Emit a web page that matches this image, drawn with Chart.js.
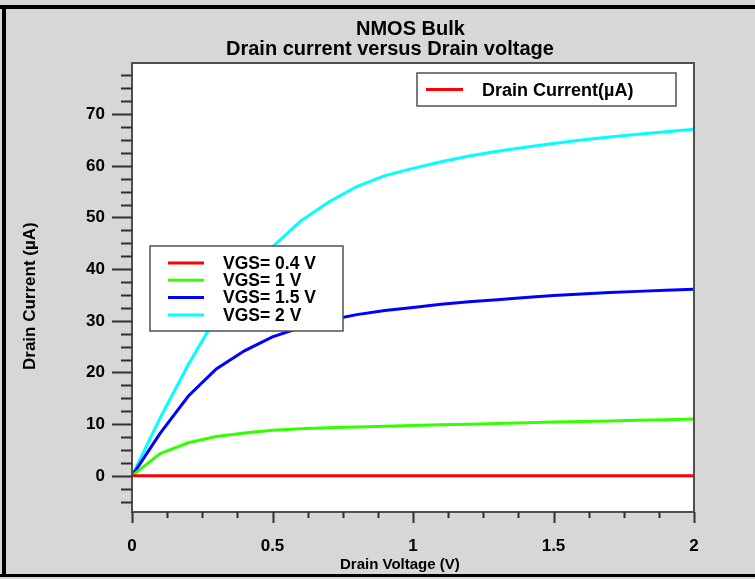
<!DOCTYPE html>
<html>
<head>
<meta charset="utf-8">
<script src="https://cdn.jsdelivr.net/npm/chart.js@4.4.0/dist/chart.umd.min.js"></script>
<style>
  html, body { margin: 0; padding: 0; background: #d7d7d7; }
  #wrap { width: 755px; height: 579px; }
</style>
</head>
<body>
<div id="wrap"><canvas id="ivChart" width="755" height="579"></canvas></div>
<script>
// Drain voltage sweep (V)
const drainVoltage = [0, 0.1, 0.2, 0.3, 0.4, 0.5, 0.6, 0.7, 0.8, 0.9, 1.0,
                      1.1, 1.2, 1.3, 1.4, 1.5, 1.6, 1.7, 1.8, 1.9, 2.0];

// Drain current (uA) for each gate voltage
const idVgs04 = [0, 0, 0, 0, 0, 0, 0, 0, 0, 0, 0, 0, 0, 0, 0, 0, 0, 0, 0, 0, 0];
const idVgs1  = [0, 4.3, 6.4, 7.6, 8.3, 8.8, 9.1, 9.3, 9.45, 9.6, 9.75,
                 9.9, 10.0, 10.15, 10.25, 10.4, 10.5, 10.6, 10.75, 10.85, 11.0];
const idVgs15 = [0, 8.2, 15.4, 20.7, 24.2, 26.9, 28.7, 30.1, 31.2, 32.0, 32.6,
                 33.2, 33.7, 34.1, 34.5, 34.9, 35.2, 35.5, 35.7, 35.9, 36.1];
const idVgs2  = [0, 11.2, 21.5, 30.8, 38.5, 44.3, 49.3, 53.0, 56.0, 58.1, 59.5,
                 60.8, 61.9, 62.8, 63.6, 64.3, 65.0, 65.6, 66.1, 66.6, 67.1];

const seriesNames = ['VGS= 0.4 V', 'VGS= 1 V', 'VGS= 1.5 V', 'VGS= 2 V'];
const seriesColors = ['#ff0000', '#33ff00', '#0000ff', '#00ffff'];
const seriesData = [idVgs04, idVgs1, idVgs15, idVgs2];

// Axis tick labels
const xTickValues = [0, 0.5, 1, 1.5, 2];
const yTickValues = [0, 10, 20, 30, 40, 50, 60, 70];
const xMinorStep = 0.125;
const yMinorStep = 2.5;

const titleLines = ['NMOS Bulk', 'Drain current versus Drain voltage'];
const xAxisTitle = 'Drain Voltage (V)';
const yAxisTitle = 'Drain Current (\u00b5A)';
const topLegendLabel = 'Drain Current(\u00b5A)';

const fontFamily = '"Liberation Sans", Arial, sans-serif';
const boldFont = (size) => `bold ${size}px ${fontFamily}`;

// background, frame, plot border, tick marks, titles and the two legend boxes
const decorPlugin = {
    id: 'decor',
    beforeDraw(chart) {
        const c = chart.ctx;
        c.save();
        c.fillStyle = '#d7d7d7';
        c.fillRect(0, 0, chart.width, chart.height);
        c.fillStyle = '#000';
        c.fillRect(0, 5, chart.width, 4);    // top edge
        c.fillRect(2, 5, 4, chart.height - 7); // left edge
        c.fillRect(0, chart.height - 5, chart.width, 3); // bottom edge
        const a = chart.chartArea;
        c.fillStyle = '#fff';
        c.fillRect(a.left, a.top, a.right - a.left, a.bottom - a.top);
        c.restore();
    },
    afterDraw(chart) {
        const c = chart.ctx;
        const a = chart.chartArea;
        const xs = chart.scales.x;
        const ys = chart.scales.y;
        c.save();

        // plot frame
        c.strokeStyle = '#505050';
        c.lineWidth = 2;
        c.strokeRect(a.left, a.top, a.right - a.left, a.bottom - a.top);

        // tick marks, outward
        c.strokeStyle = '#303030';
        c.lineWidth = 2;
        c.beginPath();
        const nx = Math.round((xs.max - xs.min) / xMinorStep);
        for (let i = 0; i <= nx; i++) {
            const v = xs.min + i * xMinorStep;
            const px = Math.round(xs.getPixelForValue(v)) + 0.5;
            const major = xTickValues.some(t => Math.abs(t - v) < 1e-9);
            c.moveTo(px, a.bottom);
            c.lineTo(px, a.bottom + (major ? 11 : 6));
        }
        const yStart = Math.ceil(ys.min / yMinorStep) * yMinorStep;
        for (let v = yStart; v <= ys.max + 1e-9; v += yMinorStep) {
            const py = Math.round(ys.getPixelForValue(v)) + 0.5;
            const major = yTickValues.some(t => Math.abs(t - v) < 1e-9);
            c.moveTo(a.left, py);
            c.lineTo(a.left - (major ? 20 : 11), py);
        }
        c.stroke();

        // title (text starts left of centre, as in the original plot)
        c.fillStyle = '#000';
        c.font = boldFont(20);
        c.textAlign = 'left';
        c.textBaseline = 'middle';
        c.fillText(titleLines[0], 356, 29);
        c.fillText(titleLines[1], 226, 49);

        // axis titles
        c.font = boldFont(15);
        c.fillText(xAxisTitle, 340, 565);
        c.save();
        c.translate(30, 370);
        c.rotate(-Math.PI / 2);
        c.font = boldFont(17);
        c.fillText(yAxisTitle, 0, 0);
        c.restore();

        // series legend
        c.fillStyle = '#fff';
        c.fillRect(150, 246, 193, 85);
        c.strokeStyle = '#505050';
        c.lineWidth = 1.5;
        c.strokeRect(150, 246, 193, 85);
        c.font = boldFont(17.5);
        c.textAlign = 'left';
        seriesNames.forEach((name, i) => {
            const y = 263 + i * 17.3;
            c.strokeStyle = seriesColors[i];
            c.lineWidth = 3;
            c.beginPath();
            c.moveTo(168, y);
            c.lineTo(204, y);
            c.stroke();
            c.fillStyle = '#000';
            c.fillText(name, 223, y + 1);
        });

        // top right legend
        c.fillStyle = '#fff';
        c.fillRect(417, 73, 259, 33);
        c.strokeStyle = '#505050';
        c.lineWidth = 1.5;
        c.strokeRect(417, 73, 259, 33);
        c.strokeStyle = seriesColors[0];
        c.lineWidth = 3;
        c.beginPath();
        c.moveTo(426, 89.5);
        c.lineTo(463, 89.5);
        c.stroke();
        c.fillStyle = '#000';
        c.font = boldFont(18);
        c.fillText(topLegendLabel, 482, 91);

        c.restore();
    }
};

const ctx = document.getElementById('ivChart').getContext('2d');

const datasets = seriesNames.map((name, i) => ({
    label: name,
    data: drainVoltage.map((v, j) => ({ x: v, y: seriesData[i][j] })),
    borderColor: seriesColors[i],
    backgroundColor: seriesColors[i],
    borderWidth: 3,
    pointRadius: 0,
    tension: 0,
    fill: false
}));

const ivChart = new Chart(ctx, {
    type: 'line',
    data: { datasets: datasets },
    options: {
        responsive: false,
        animation: false,
        layout: { padding: { left: 0, right: 61, top: 63, bottom: 0 } },
        plugins: {
            legend: { display: false },
            title: { display: false },
            tooltip: { enabled: false }
        },
        scales: {
            x: {
                type: 'linear',
                min: 0,
                max: 2,
                afterBuildTicks: (scale) => { scale.ticks = xTickValues.map(v => ({ value: v })); },
                afterFit: (scale) => { scale.height = 67; },
                grid: { display: false },
                border: { display: false },
                ticks: {
                    padding: 16,
                    color: '#000',
                    font: { family: fontFamily, size: 17, weight: 'bold' },
                    callback: (v) => String(v)
                },
                title: { display: false }
            },
            y: {
                type: 'linear',
                min: -7,
                max: 79.9,
                afterBuildTicks: (scale) => { scale.ticks = yTickValues.map(v => ({ value: v })); },
                afterFit: (scale) => { scale.width = 132; },
                grid: { display: false },
                border: { display: false },
                ticks: {
                    padding: 19,
                    color: '#000',
                    font: { family: fontFamily, size: 17, weight: 'bold' }
                },
                title: { display: false }
            }
        }
    },
    plugins: [decorPlugin]
});
</script>
</body>
</html>
